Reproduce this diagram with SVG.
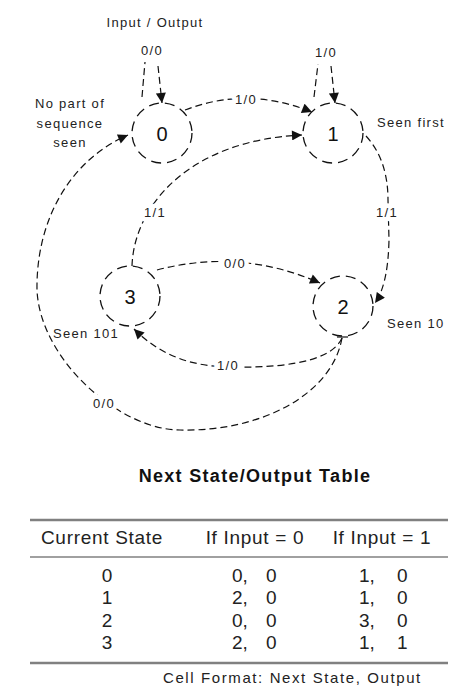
<svg xmlns="http://www.w3.org/2000/svg" width="453" height="689" viewBox="0 0 453 689">
<style>
.bg{fill:#ffffff}
.node{fill:none;stroke:#111;stroke-width:1.3;stroke-dasharray:10 6}
.num{font-family:"Liberation Sans",Arial,sans-serif;font-size:20px;fill:#111;text-anchor:middle}
.edge{fill:none;stroke:#111;stroke-width:1.2;stroke-dasharray:7 4}
.lbl{font-family:"Liberation Sans",Arial,sans-serif;font-size:13px;letter-spacing:1.3px;fill:#222}
.elbl{font-family:"Liberation Sans",Arial,sans-serif;font-size:13px;letter-spacing:1.3px;fill:#222;text-anchor:middle;stroke:#fff;stroke-width:9px;paint-order:stroke;stroke-linejoin:round}
.mid{text-anchor:middle}
.title{font-family:"Liberation Sans",Arial,sans-serif;font-size:18px;font-weight:bold;letter-spacing:1.3px;fill:#111;text-anchor:middle}
.th{font-family:"Liberation Sans",Arial,sans-serif;font-size:19px;letter-spacing:0.7px;fill:#222;text-anchor:middle}
.td{font-family:"Liberation Sans",Arial,sans-serif;font-size:19px;fill:#222}
.foot{font-family:"Liberation Sans",Arial,sans-serif;font-size:15px;letter-spacing:1.6px;fill:#222}
.rule{stroke:#808080}
</style>
<defs>
<marker id="arr" viewBox="0 0 10 10" refX="10" refY="5" markerWidth="11" markerHeight="10" markerUnits="userSpaceOnUse" orient="auto">
<path d="M0,0 L10,5 L0,10 z" fill="#111"/>
</marker>
</defs>
<rect class="bg" x="0" y="0" width="453" height="689"/>

<g id="connectors">
<path class="edge" d="M142,97 L145,62"/>
<path class="edge" d="M158,66 L162,103" marker-end="url(#arr)"/>
<path class="edge" d="M314,97 L318,64"/>
<path class="edge" d="M331,66 L335,103" marker-end="url(#arr)"/>
<path class="edge" d="M185,110 Q247,86 312,112" marker-end="url(#arr)"/>
<path class="edge" d="M132,266 C134,205 190,140 302,135" marker-end="url(#arr)"/>
<path class="edge" d="M366,136 Q388,160 388,200 L389,240 Q388,285 375,303" marker-end="url(#arr)"/>
<path class="edge" d="M157,270 Q240,248 320,283" marker-end="url(#arr)"/>
<path class="edge" d="M342,338 C330,365 270,368 228,367 C190,366 160,355 134,329" marker-end="url(#arr)"/>
<path class="edge" d="M342,338 C332,395 260,432 180,430 C120,430 40,360 37,290 C36,220 70,160 128,135" marker-end="url(#arr)"/>
<line x1="337" y1="337" x2="348" y2="337" stroke="#111" stroke-width="1.2"/>
<text class="elbl" x="152" y="55">0/0</text>
<text class="elbl" x="326" y="57">1/0</text>
<text class="elbl" x="246" y="104">1/0</text>
<text class="elbl" x="155" y="217">1/1</text>
<text class="elbl" x="387" y="217">1/1</text>
<text class="elbl" x="235" y="268">0/0</text>
<text class="elbl" x="228" y="370">1/0</text>
<text class="elbl" x="104" y="408">0/0</text>
</g>

<g id="node0">
<circle class="node" cx="162" cy="133" r="30"/>
<text class="num" x="162" y="141">0</text>
<text class="lbl mid" x="70" y="108">No part of</text>
<text class="lbl mid" x="70" y="128">sequence</text>
<text class="lbl mid" x="70" y="147">seen</text>
</g>
<g id="node1">
<circle class="node" cx="333" cy="133" r="30"/>
<text class="num" x="333" y="141">1</text>
<text class="lbl" x="377" y="127">Seen first</text>
</g>
<g id="node2">
<circle class="node" cx="343" cy="306" r="30"/>
<text class="num" x="343" y="314">2</text>
<text class="lbl" x="387" y="328">Seen 10</text>
</g>
<g id="node3">
<circle class="node" cx="130" cy="296" r="30"/>
<text class="num" x="130" y="304">3</text>
<text class="lbl" x="53" y="338">Seen 101</text>
</g>

<g id="legend">
<text class="lbl mid" x="155" y="27">Input / Output</text>
</g>

<g id="table">
<text class="title" x="255" y="482">Next State/Output Table</text>
<line class="rule" x1="30" y1="520" x2="448" y2="520" stroke-width="2.5"/>
<text class="th" x="102" y="544">Current State</text>
<text class="th" x="255" y="544">If Input = 0</text>
<text class="th" x="382" y="544">If Input = 1</text>
<line class="rule" x1="30" y1="557" x2="448" y2="557" stroke-width="1.5"/>
<g class="td">
<text x="107" y="582" text-anchor="middle">0</text>
<text x="107" y="604" text-anchor="middle">1</text>
<text x="107" y="627" text-anchor="middle">2</text>
<text x="107" y="649" text-anchor="middle">3</text>
<text x="232" y="582">0,</text><text x="266" y="582">0</text>
<text x="232" y="604">2,</text><text x="266" y="604">0</text>
<text x="232" y="627">0,</text><text x="266" y="627">0</text>
<text x="232" y="649">2,</text><text x="266" y="649">0</text>
<text x="359" y="582">1,</text><text x="397" y="582">0</text>
<text x="359" y="604">1,</text><text x="397" y="604">0</text>
<text x="359" y="627">3,</text><text x="397" y="627">0</text>
<text x="359" y="649">1,</text><text x="397" y="649">1</text>
</g>
<line class="rule" x1="30" y1="663" x2="448" y2="663" stroke-width="2.5"/>
<text class="foot" x="163" y="683">Cell Format: Next State, Output</text>
</g>
</svg>
